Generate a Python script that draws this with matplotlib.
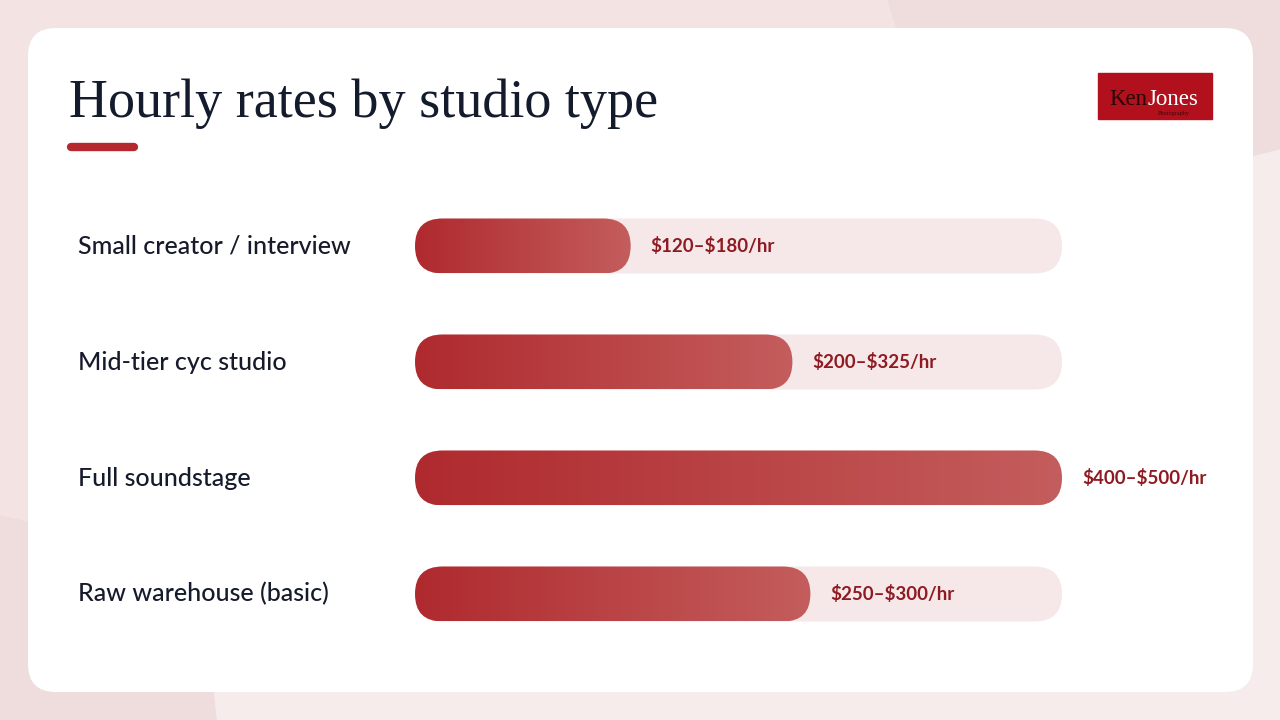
import matplotlib.pyplot as plt
import numpy as np
from matplotlib.patches import FancyBboxPatch, Polygon, Rectangle
from matplotlib.colors import LinearSegmentedColormap
from matplotlib.transforms import blended_transform_factory

# Data
categories = ["Small creator / interview", "Mid-tier cyc studio",
              "Full soundstage", "Raw warehouse (basic)"]
low = [120, 200, 400, 250]
high = [180, 325, 500, 300]
title = "Hourly rates by studio type"

# bar length = midpoint of the range, scaled to the largest one
mid = [(a + b) / 2 for a, b in zip(low, high)]
max_mid = max(mid)

W, H = 1280, 720
fig = plt.figure(figsize=(W / 100, H / 100), dpi=100)

# Background / card layer in pixel coordinates
bg = fig.add_axes([0, 0, 1, 1])
bg.set_xlim(0, W)
bg.set_ylim(H, 0)
bg.axis("off")
bg.add_patch(Rectangle((0, 0), W, H, color="#F3E3E3", zorder=0))
bg.add_patch(Polygon([(888, 0), (W, 0), (W, 150), (960, 230)],
                     color="#EFDCDC", zorder=1))
bg.add_patch(Polygon([(960, 230), (W, 150), (W, H), (216, H), (200, 560)],
                     color="#F6ECEC", zorder=1))
bg.add_patch(Polygon([(0, 516), (200, 560), (216, H), (0, H)],
                     color="#EFDCDC", zorder=1))
bg.add_patch(FancyBboxPatch((28, 28), 1225, 664,
                            boxstyle="round,pad=0,rounding_size=28",
                            facecolor="white", edgecolor="none", zorder=2))

# Title and accent
bg.text(69, 117, title, fontsize=39, family="Liberation Serif",
        color="#141B2D", va="baseline", ha="left", zorder=3)
bg.plot([71, 134], [147, 147], color="#B5292E", lw=6,
        solid_capstyle="round", zorder=3)

# Logo
bg.add_patch(Rectangle((1098, 73), 114, 46, color="#B2101C", zorder=3))
bg.text(1109, 105, "Ken", fontsize=16.5, family="Liberation Serif",
        color="#2A0606", va="baseline", zorder=4)
bg.text(1148, 105, "Jones", fontsize=16.5, family="Liberation Serif",
        color="white", va="baseline", zorder=4)
bg.text(1158, 115, "Photography", fontsize=4.5, family="Liberation Serif",
        color="#3A0A0A", va="baseline", zorder=4)

# Bar axes
x0, x1 = 415, 1062
row = 116
y_top = 246 - row / 2
n = len(categories)
ax = fig.add_axes([x0 / W, (H - (y_top + n * row)) / H,
                   (x1 - x0) / W, n * row / H])
ax.set_xlim(0, max_mid)
ax.set_ylim(n - 0.5, -0.5)
ax.axis("off")
ax.patch.set_alpha(0)

bar_h = 55 / row
radius = 27.5 * max_mid / (x1 - x0)
aspect = (1 / row) / (max_mid / (x1 - x0))

cmap = LinearSegmentedColormap.from_list("bar", ["#AF2A2E", "#C45D5D"])
grad = np.linspace(0, 1, 256).reshape(1, -1)
trans_lbl = blended_transform_factory(fig.transFigure, ax.transData)

for i, (cat, m, lo, hi) in enumerate(zip(categories, mid, low, high)):
    track = FancyBboxPatch((0, i - bar_h / 2), max_mid, bar_h,
                           boxstyle=f"round,pad=0,rounding_size={radius}",
                           mutation_aspect=aspect,
                           facecolor="#F6E8E8", edgecolor="none", zorder=1)
    ax.add_patch(track)
    bar = FancyBboxPatch((0, i - bar_h / 2), m, bar_h,
                         boxstyle=f"round,pad=0,rounding_size={radius}",
                         mutation_aspect=aspect,
                         facecolor="none", edgecolor="none", zorder=2)
    ax.add_patch(bar)
    im = ax.imshow(grad, cmap=cmap, aspect="auto", zorder=2,
                   extent=(0, m, i + bar_h / 2, i - bar_h / 2))
    im.set_clip_path(bar)
    ax.annotate(f"\\${lo}\u2013\\${hi}/hr", (m, i), xytext=(20, 0),
                textcoords="offset pixels", va="center", ha="left",
                fontsize=13.5, fontweight="bold", family="Lato",
                color="#8E1A22", zorder=3)
    ax.text(78 / W, i, cat, transform=trans_lbl, va="center", ha="left",
            fontsize=18, fontweight="medium", family="Lato", color="#161B2B")

ax.set_xlim(0, max_mid)
ax.set_ylim(n - 0.5, -0.5)

fig.savefig("out.png", dpi=100)
